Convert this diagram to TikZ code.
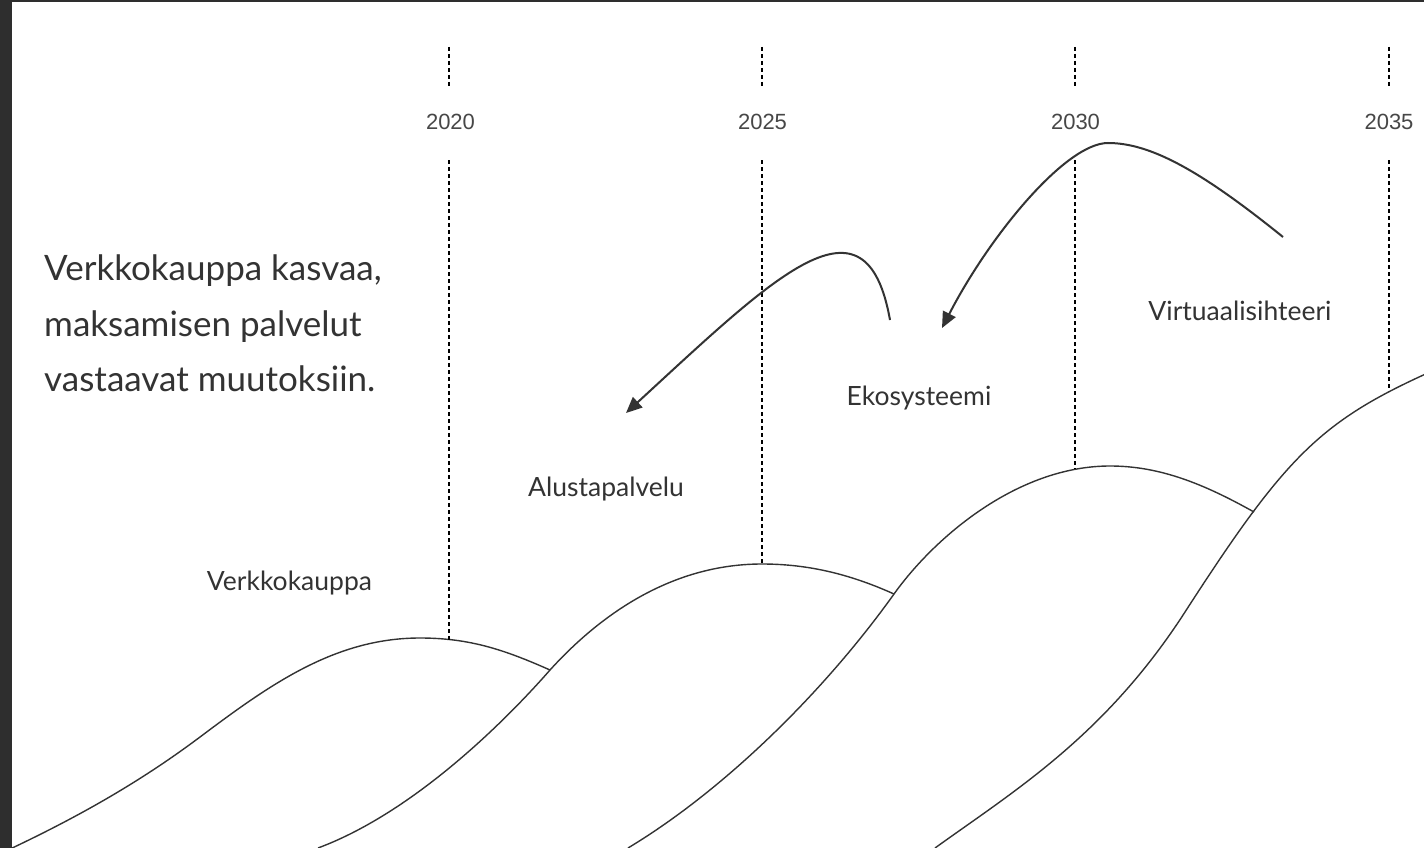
\documentclass[tikz,border=0pt]{standalone}
\usepackage{fontspec}
\setmainfont{Lato}
\newfontfamily\yearfont{Liberation Sans}
\usetikzlibrary{arrows.meta}
\definecolor{frame}{HTML}{2E2E2E}
\definecolor{ink}{HTML}{333333}
\definecolor{yeargray}{HTML}{474747}
\tikzset{
  wave/.style={draw=ink, line width=1.4pt},
  guide/.style={draw=black, line width=2.2pt, dash pattern=on 4pt off 3pt},
  jump/.style={draw=ink, line width=2pt, -{Triangle[length=16pt,width=14pt]}},
  yearlbl/.style={font=\yearfont\fontsize{22}{26}\selectfont, text=yeargray, anchor=base, inner sep=0pt},
  stage/.style={font=\fontsize{26.5}{30}\selectfont, text=ink, anchor=base, inner sep=0pt},
  lead/.style={font=\fontsize{35}{40}\selectfont, text=ink, anchor=base west, inner sep=0pt},
}
\begin{document}
\begin{tikzpicture}[x=1pt,y=-1pt]
\fill[white] (0,0) rectangle (1424,848);
\useasboundingbox (0,0) rectangle (1424,848);

% junctions, peaks, ends
\coordinate (j12) at (550,670);
\coordinate (j23) at (894,594);
\coordinate (j34) at (1254,512);
\coordinate (p1) at (420,638);
\coordinate (p2) at (762,564);
\coordinate (p3) at (1110,466);
\coordinate (i1) at (200,737);
\coordinate (i4) at (1185,612);
\coordinate (e4) at (1430,372);

\begin{scope}
\clip (12,2) rectangle (1424,848);
% S-curves
\draw[wave] (8,850) .. controls (78,817) and (140,782) .. (i1)
  .. controls (270,684.5) and (335,638) .. (p1)
  .. controls (470,638) and (505,650) .. (j12);
\draw[wave] (318,848) .. controls (420,810) and (515,710) .. (j12)
  .. controls (590,626) and (662,564) .. (p2)
  .. controls (812,564) and (854,576) .. (j23);
\draw[wave] (628,848) .. controls (726,789) and (825.4,690) .. (j23)
  .. controls (934,538) and (1017,466) .. (p3)
  .. controls (1160,466) and (1204,484) .. (j34);
\draw[wave] (935,848) .. controls (1015,790.4) and (1105,736) .. (i4)
  .. controls (1285,457) and (1320,421.5) .. (e4);

% dotted year guides
\coordinate (a1) at (449,47); \coordinate (b1) at (449,88);
\coordinate (c1) at (449,160); \coordinate (d1) at (449,639.5);
\coordinate (a2) at (762,47); \coordinate (b2) at (762,88);
\coordinate (c2) at (762,160); \coordinate (d2) at (762,564);
\coordinate (a3) at (1075,47); \coordinate (b3) at (1075,88);
\coordinate (c3) at (1075,160); \coordinate (d3) at (1075,469);
\coordinate (a4) at (1389,47); \coordinate (b4) at (1389,88);
\coordinate (c4) at (1389,160); \coordinate (d4) at (1389,391);
\foreach \i in {1,2,3,4}{
  \draw[guide] (a\i) -- (b\i);
  \draw[guide] (c\i) -- (d\i);
}
\end{scope}

% year labels
\node[yearlbl] (y2020) at (450.5,130) {2020};
\node[yearlbl] (y2025) at (762.5,130) {2025};
\node[yearlbl] (y2030) at (1075.5,130) {2030};
\node[yearlbl] (y2035) at (1389,130) {2035};

% lead text
\node[lead] (l1) at (44,280) {Verkkokauppa kasvaa,};
\node[lead] (l2) at (44,336) {maksamisen palvelut};
\node[lead] (l3) at (44,391) {vastaavat muutoksiin.};

% stage labels
\node[stage] (s1) at (289.5,590) {Verkkokauppa};
\node[stage] (s2) at (606,496) {Alustapalvelu};
\node[stage] (s3) at (919,405) {Ekosysteemi};
\node[stage] (s4) at (1240,320) {Virtuaalisihteeri};

% arrows
\coordinate (aS) at (890,320);
\coordinate (aE) at (626,413);
\draw[jump] (aS) .. controls (866,185) and (776,275) .. (aE);
\coordinate (bS) at (1283,237);
\coordinate (bP) at (1108,143);
\coordinate (bE) at (942,328);
\draw[jump] (bS) .. controls (1200,170) and (1150,143) .. (bP)
  .. controls (1066,143) and (990,235) .. (bE);

% frame
\fill[frame] (0,0) rectangle (12,848);
\fill[frame] (0,0) rectangle (1424,2);
\end{tikzpicture}
\end{document}
